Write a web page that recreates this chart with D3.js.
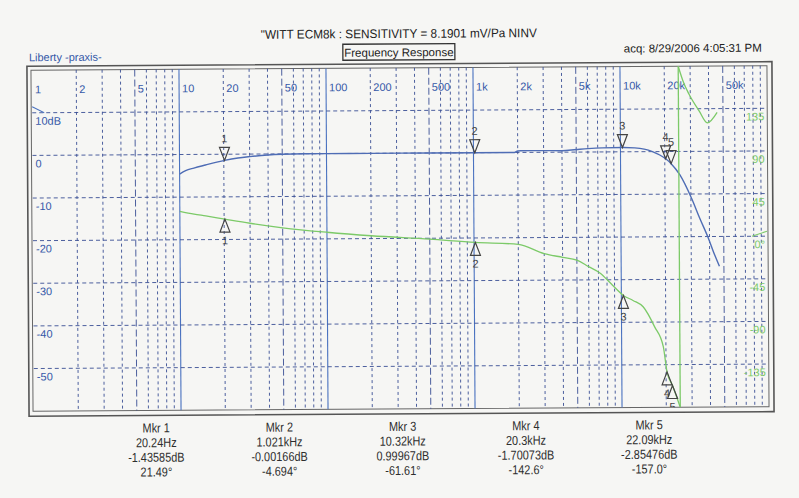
<!DOCTYPE html>
<html>
<head>
<meta charset="utf-8">
<script src="https://cdn.jsdelivr.net/npm/d3@7"></script>
<style>
  html, body { margin: 0; padding: 0; background: #f6f6f4; }
  svg { display: block; }
  text { font-family: "Liberation Sans", Arial, sans-serif; }
</style>
</head>
<body>
<svg id="chart" width="799" height="498"></svg>
<script>
// Frequency response plot (scan of an analyser printout)

const freqTicks = [1, 2, 5, 10, 20, 50, 100, 200, 500, 1000, 2000, 5000, 10000, 20000, 50000];
const freqTickLabels = ['1', '2', '5', '10', '20', '50', '100', '200', '500', '1k', '2k', '5k', '10k', '20k', '50k'];
const dbTicks = [10, 0, -10, -20, -30, -40, -50];
const dbTickLabels = ['10dB', '0', '-10', '-20', '-30', '-40', '-50'];
const phaseTicks = [135, 90, 45, 0, -45, -90, -135];
const phaseTickLabels = ['135', '90', '45', '0°', '-45', '-90', '-135'];

// magnitude (dB)
const magFreq = [10, 11, 12.5, 15, 20.24, 25, 30, 40, 50, 70, 100, 200, 500, 1021, 1900, 2000, 2100, 3000, 4000, 5000, 6000, 7500, 10320, 12500, 14500, 16500, 18500, 20300, 22090, 25200, 30300, 34400, 39300, 42400, 46600];
const magDb = [-4.6, -3.8, -3.2, -2.5, -1.44, -0.9, -0.6, -0.25, -0.1, 0, 0, 0, 0, 0, 0, 0.35, 0.4, 0.4, 0.35, 0.6, 0.8, 0.95, 1.0, 0.9, 0.6, 0, -0.8, -1.7, -2.85, -5.4, -11, -15.7, -20.4, -23.5, -27];

// phase (deg), before and after the wrap at -180
const phaseLoFreq = [10, 12.5, 15, 20.24, 30, 50, 100, 200, 500, 1021, 2000, 3000, 4000, 5000, 6000, 7200, 8500, 10320, 12000, 14100, 16800, 19200, 20300, 22090, 24900];
const phaseLoDeg = [30, 27, 25, 21.49, 17, 12, 7, 3, -1, -4.694, -7, -17, -21, -24, -31, -38, -49, -61.61, -67, -74, -95, -116, -142.6, -157, -180];
const phaseHiFreq = [24900, 27000, 29500, 34400, 39100, 45600];
const phaseHiDeg = [180, 163, 150, 132.7, 120, 131];

// markers
const markerNames = ['1', '2', '3', '4', '5'];
const markerFreq = [20.24, 1021, 10320, 20300, 22090];
const markerDb = [-1.43585, -0.00166, 0.99967, -1.70073, -2.85476];
const markerDeg = [21.49, -4.694, -61.61, -142.6, -157.0];
const markerFreqText = ['20.24Hz', '1.021kHz', '10.32kHz', '20.3kHz', '22.09kHz'];
const markerDbText = ['-1.43585dB', '-0.00166dB', '0.99967dB', '-1.70073dB', '-2.85476dB'];
const markerDegText = ['21.49°', '-4.694°', '-61.61°', '-142.6°', '-157.0°'];

const svg = d3.select('#chart');
const plot = { left: 33, right: 768, top: 70, bottom: 411 };

const blueGrid = '#4a72c0';
const navy = '#3a4f95';
const magColor = '#4f6db5';
const phaseColor = '#7cca68';
const ink = '#2e2e2e';

// the printout was scanned slightly skewed
const page = svg.append('g').attr('transform', 'rotate(-0.35, 60, 240)');

const x = d3.scaleLog().domain([1, 100000]).range([plot.left, plot.right]);
const yDb = d3.scaleLinear().domain([-60, 20]).range([plot.bottom, plot.top]);
const yPh = d3.scaleLinear().domain([-180, 180]).range([plot.bottom, plot.top]);

// header
page.append('text')
  .attr('x', 262).attr('y', 40)
  .attr('font-size', 12.5).attr('fill', '#222')
  .attr('textLength', 276).attr('lengthAdjust', 'spacingAndGlyphs')
  .text('"WITT ECM8k : SENSITIVITY = 8.1901 mV/Pa NINV');

page.append('rect')
  .attr('x', 344).attr('y', 46).attr('width', 112).attr('height', 16)
  .attr('fill', 'none').attr('stroke', '#333').attr('stroke-width', 1.3);
page.append('text')
  .attr('x', 400).attr('y', 58.5).attr('text-anchor', 'middle')
  .attr('font-size', 11.5).attr('fill', '#222')
  .text('Frequency Response');

page.append('text')
  .attr('x', 30).attr('y', 61)
  .attr('font-size', 11).attr('fill', '#3558a8')
  .text('Liberty -praxis-');

page.append('text')
  .attr('x', 763).attr('y', 56).attr('text-anchor', 'end')
  .attr('font-size', 11.5).attr('fill', '#222')
  .text('acq: 8/29/2006 4:05:31 PM');

// frame
page.append('rect')
  .attr('x', 28).attr('y', 66).attr('width', 745).attr('height', 350)
  .attr('fill', 'none').attr('stroke', '#555').attr('stroke-width', 1.6);
page.append('rect')
  .attr('x', plot.left - 1).attr('y', plot.top).attr('width', plot.right - plot.left + 1).attr('height', plot.bottom - plot.top)
  .attr('fill', 'none').attr('stroke', '#666').attr('stroke-width', 1);

page.append('clipPath').attr('id', 'plotClip')
  .append('rect')
  .attr('x', plot.left).attr('y', plot.top)
  .attr('width', plot.right - plot.left).attr('height', plot.bottom - plot.top);

// vertical grid
const minorFreqs = [];
for (let d = 1; d <= 10000; d *= 10) {
  for (let m = 2; m <= 9; m++) minorFreqs.push(m * d);
}
const decadeFreqs = [10, 100, 1000, 10000];

const grid = page.append('g');
grid.selectAll('line.minor')
  .data(minorFreqs)
  .join('line')
    .attr('class', 'minor')
    .attr('x1', d => x(d)).attr('x2', d => x(d))
    .attr('y1', plot.top).attr('y2', plot.bottom)
    .attr('stroke', navy).attr('stroke-width', 0.9)
    .attr('stroke-dasharray', d => (String(d)[0] === '5' ? '7,3' : '3,3'));

grid.selectAll('line.decade')
  .data(decadeFreqs)
  .join('line')
    .attr('class', 'decade')
    .attr('x1', d => x(d)).attr('x2', d => x(d))
    .attr('y1', plot.top).attr('y2', plot.bottom)
    .attr('stroke', blueGrid).attr('stroke-width', 1.1);

// horizontal grid
grid.selectAll('line.h')
  .data(dbTicks)
  .join('line')
    .attr('class', 'h')
    .attr('x1', plot.left).attr('x2', plot.right)
    .attr('y1', d => yDb(d)).attr('y2', d => yDb(d))
    .attr('stroke', navy).attr('stroke-width', 0.9)
    .attr('stroke-dasharray', '4,3');

// tick labels
page.append('g').selectAll('text')
  .data(freqTicks)
  .join('text')
    .attr('x', d => x(d) + 3).attr('y', 93)
    .attr('font-size', 11).attr('fill', '#3558a8')
    .text((d, i) => freqTickLabels[i]);

page.append('g').selectAll('text')
  .data(dbTicks)
  .join('text')
    .attr('x', 36).attr('y', d => yDb(d) + 12)
    .attr('font-size', 11).attr('fill', '#3558a8')
    .text((d, i) => dbTickLabels[i]);

page.append('line')
  .attr('x1', 33).attr('y1', yDb(10) - 6).attr('x2', 45).attr('y2', yDb(10))
  .attr('stroke', blueGrid).attr('stroke-width', 1);

page.append('g').selectAll('text')
  .data(phaseTicks)
  .join('text')
    .attr('x', 765).attr('y', d => yPh(d) + 12)
    .attr('text-anchor', 'end')
    .attr('font-size', 11).attr('fill', phaseColor)
    .text((d, i) => phaseTickLabels[i]);

page.append('line')
  .attr('x1', 752).attr('y1', yPh(0)).attr('x2', 767).attr('y2', yPh(0) - 5)
  .attr('stroke', phaseColor).attr('stroke-width', 1);

// traces
const traces = page.append('g').attr('clip-path', 'url(#plotClip)');

const magLine = d3.line()
  .x(d => x(d[0])).y(d => yDb(d[1]))
  .curve(d3.curveMonotoneX);
traces.append('path')
  .datum(d3.zip(magFreq, magDb))
  .attr('d', magLine)
  .attr('fill', 'none').attr('stroke', magColor).attr('stroke-width', 1.4);

const phLine = d3.line()
  .x(d => x(d[0])).y(d => yPh(d[1]))
  .curve(d3.curveMonotoneX);
traces.append('path')
  .datum(d3.zip(phaseLoFreq, phaseLoDeg))
  .attr('d', phLine)
  .attr('fill', 'none').attr('stroke', phaseColor).attr('stroke-width', 1.3);
traces.append('path')
  .datum(d3.zip(phaseHiFreq, phaseHiDeg))
  .attr('d', phLine)
  .attr('fill', 'none').attr('stroke', phaseColor).attr('stroke-width', 1.3);
// wrap from -180 to +180
traces.append('line')
  .attr('x1', x(phaseHiFreq[0])).attr('x2', x(phaseHiFreq[0]))
  .attr('y1', yPh(-180)).attr('y2', yPh(180))
  .attr('stroke', phaseColor).attr('stroke-width', 1.3);

// markers
const mk = traces.append('g');
const tri = 5, triH = 13;
markerNames.forEach((name, i) => {
  const mx = x(markerFreq[i]);
  const my = yDb(markerDb[i]);
  mk.append('path')
    .attr('d', `M${mx},${my} L${mx - tri},${my - triH} L${mx + tri},${my - triH} Z`)
    .attr('fill', 'none').attr('stroke', '#444').attr('stroke-width', 1.2);
  mk.append('text')
    .attr('x', mx).attr('y', my - triH - 5)
    .attr('text-anchor', 'middle').attr('font-size', 11).attr('fill', '#444')
    .text(name);

  const py = yPh(markerDeg[i]);
  mk.append('path')
    .attr('d', `M${mx},${py} L${mx - tri},${py + triH} L${mx + tri},${py + triH} Z`)
    .attr('fill', 'none').attr('stroke', '#444').attr('stroke-width', 1.2);
  mk.append('text')
    .attr('x', mx).attr('y', py + triH + 12)
    .attr('text-anchor', 'middle').attr('font-size', 11).attr('fill', '#444')
    .text(name);
});

// marker readout table (condensed print font)
const colX = d3.scalePoint().domain(markerNames).range([155, 648]);
const rows = [
  markerNames.map(n => 'Mkr ' + n),
  markerFreqText,
  markerDbText,
  markerDegText
];
const table = page.append('g');
rows.forEach((row, r) => {
  table.selectAll(null)
    .data(row)
    .join('text')
      .attr('transform', (d, i) => `translate(${colX(markerNames[i])},${433 + r * 14.7}) scale(0.84,1)`)
      .attr('text-anchor', 'middle')
      .attr('font-size', 13).attr('fill', ink)
      .text(d => d);
});
</script>
</body>
</html>
